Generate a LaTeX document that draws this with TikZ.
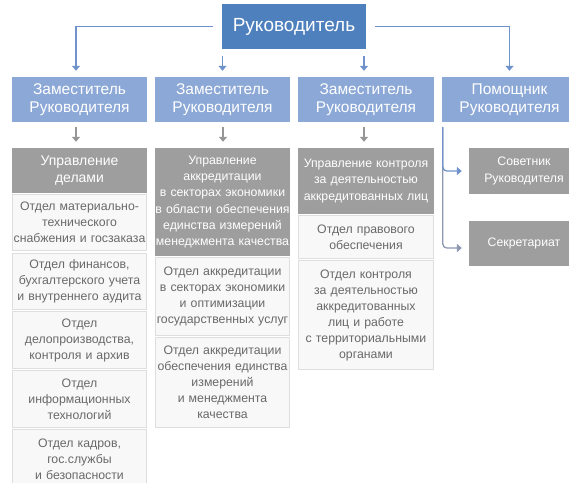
\documentclass[tikz,border=0pt]{standalone}
\usepackage{fontspec}
\setmainfont{Liberation Sans}
\usetikzlibrary{arrows.meta,calc}
\definecolor{topblue}{RGB}{79,128,190}
\definecolor{midblue}{RGB}{140,168,214}
\definecolor{hdgray}{RGB}{158,158,158}
\definecolor{cellfill}{RGB}{248,248,248}
\definecolor{cellline}{RGB}{222,222,222}
\definecolor{celltext}{RGB}{105,105,105}
\definecolor{arrblue}{RGB}{112,146,204}
\definecolor{arrgray}{RGB}{150,150,150}
\definecolor{arrmix}{RGB}{140,152,178}
\begin{document}
\begin{tikzpicture}[x=1pt,y=-1pt,
 box/.style={rectangle, inner sep=0pt, align=center, anchor=center},
 topbox/.style={box, fill=topblue, text=white, font=\fontsize{19}{22}\selectfont},
 depbox/.style={box, fill=midblue, text=white, font=\fontsize{15.5}{17.6}\selectfont},
 hdbox/.style={box, fill=hdgray, text=white, font=\fontsize{12.3}{16.2}\selectfont},
 cellbox/.style={box, fill=cellfill, draw=cellline, line width=1pt, text=celltext, font=\fontsize{12.3}{16}\selectfont},
 tipp/.style={-{Triangle[width=8pt,length=5pt]}},
 barrow/.style={draw=arrblue, line width=1.3pt, tipp},
 garrow/.style={draw=arrgray, line width=1.3pt, tipp},
 marrow/.style={draw=arrmix, line width=1.3pt, tipp},
]
\clip (0,0) rectangle (569,482);
\fill[white] (0,0) rectangle (569,482);

% top
\node[topbox, minimum width=144pt, minimum height=45pt] (top) at (294,26.5) {Руководитель};

% second row
\node[depbox, minimum width=135pt, minimum height=45pt, text width=135pt] (z1) at (79.5,99.5) {Заместитель\\Руководителя};
\node[depbox, minimum width=135pt, minimum height=45pt, text width=135pt] (z2) at (222.5,99.5) {Заместитель\\Руководителя};
\node[depbox, minimum width=136pt, minimum height=45pt, text width=136pt] (z3) at (366,99.5) {Заместитель\\Руководителя};
\node[depbox, minimum width=135pt, minimum height=45pt, text width=135pt] (p4) at (509.5,99.5) {Помощник\\Руководителя};

% headers
\node[hdbox, minimum width=135pt, minimum height=45pt, text width=135pt, font=\fontsize{14}{16.2}\selectfont] (h1) at (79.5,170.5) {Управление\\делами};
\node[hdbox, minimum width=135pt, minimum height=108pt, text width=135pt] (h2) at (222.5,202) {Управление\\аккредитации\\в секторах экономики\\в области обеспечения\\единства измерений\\менеджмента качества};
\node[hdbox, minimum width=136pt, minimum height=66pt, text width=136pt] (h3) at (366,181) {Управление контроля\\за деятельностью\\аккредитованных лиц};

% column 1 cells
\node[cellbox, minimum width=134pt, minimum height=56pt, text width=134pt] (a1) at (79.5,222.5) {Отдел материально-\\технического\\снабжения и госзаказа};
\node[cellbox, minimum width=134pt, minimum height=56pt, text width=134pt] (a2) at (79.5,281.5) {Отдел финансов,\\бухгалтерского учета\\и внутреннего аудита};
\node[cellbox, minimum width=134pt, minimum height=57pt, text width=134pt] (a3) at (79.5,340) {Отдел\\делопроизводства,\\контроля и архив};
\node[cellbox, minimum width=134pt, minimum height=57pt, text width=134pt] (a4) at (79.5,399) {Отдел\\информационных\\технологий};
\node[cellbox, minimum width=134pt, minimum height=60pt, text width=134pt] (a5) at (79.5,459.5) {Отдел кадров,\\гос.службы\\и безопасности};

% column 2 cells
\node[cellbox, minimum width=134pt, minimum height=78pt, text width=134pt] (b1) at (222.5,296.5) {Отдел аккредитации\\в секторах экономики\\и оптимизации\\государственных услуг};
\node[cellbox, minimum width=134pt, minimum height=90pt, text width=134pt] (b2) at (222.5,382.5) {Отдел аккредитации\\обеспечения единства\\измерений\\и менеджмента\\качества};

% column 3 cells
\node[cellbox, minimum width=135pt, minimum height=43pt, text width=135pt] (c1) at (366,237) {Отдел правового\\обеспечения};
\node[cellbox, minimum width=135pt, minimum height=109pt, text width=135pt] (c2) at (366,315) {Отдел контроля\\за деятельностью\\аккредитованных\\лиц и работе\\с территориальными\\органами};

% right boxes
\node[hdbox, minimum width=110pt, minimum height=46pt, text width=110pt] (sov) at (524,171) {Советник\\Руководителя};
\node[hdbox, minimum width=110pt, minimum height=45pt, text width=110pt] (sek) at (524,243.5) {Секретариат};

% connectors from top
\draw[barrow, shorten <=9pt, shorten >=6pt] (top.west) -| ([xshift=-3.5pt]z1.north);
\draw[barrow, shorten <=9pt, shorten >=6pt] (top.east) -| (p4.north);
\draw[barrow, shorten <=7pt, shorten >=6pt] (top.south -| z2.north) -- (z2.north);
\draw[barrow, shorten <=7pt, shorten >=6pt] ([xshift=-2pt]top.south -| z3.north) -- ([xshift=-2pt]z3.north);

% gray connectors
\draw[garrow, shorten <=5pt, shorten >=6pt] ([xshift=-3.5pt]z1.south) -- ([xshift=-3.5pt]h1.north);
\draw[garrow, shorten <=5pt, shorten >=6pt] ([xshift=0.5pt]z2.south) -- ([xshift=0.5pt]h2.north);
\draw[garrow, shorten <=5pt, shorten >=6pt] ([xshift=-2pt]z3.south) -- ([xshift=-2pt]h3.north);

% assistant branch
\draw[marrow, rounded corners=4pt, shorten >=7pt] ([xshift=1pt,yshift=-5pt]p4.south west) |- ([yshift=-4.5pt]sek.west);
\draw[barrow, rounded corners=4pt, shorten >=7pt] ([xshift=1pt,yshift=-5pt]p4.south west) |- (sov.west);
\end{tikzpicture}
\end{document}
